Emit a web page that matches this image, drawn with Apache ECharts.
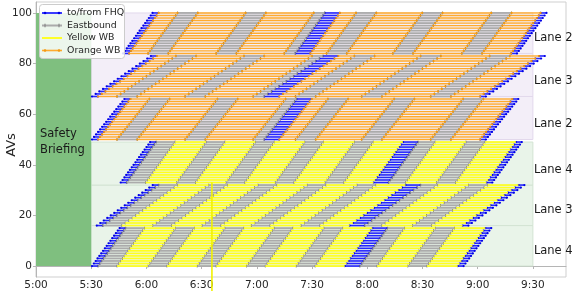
<!DOCTYPE html>
<html><head><meta charset="utf-8">
<script src="https://cdn.jsdelivr.net/npm/echarts@6/dist/echarts.min.js"></script>
<style>html,body{margin:0;padding:0;background:#fff}#c{width:574px;height:291px}</style>
</head><body><div id="c"></div>
<script>
// ---- data (minutes after 5:00) ----
const xTickLabels = ['5:00','5:30','6:00','6:30','7:00','7:30','8:00','8:30','9:00','9:30'];
const yTickValues = [0,20,40,60,80,100];
const legendNames = ['to/from FHQ','Eastbound','Yellow WB','Orange WB'];
const laneNames   = ['Lane 4','Lane 3','Lane 4','Lane 2','Lane 3','Lane 2'];
const laneBandLo  = [0,16,32,50,67,84];
const laneBandHi  = [16,32,49,67,84,100];
const groupFirstAV = [0,16,33,50,67,84];
const groupLastAV  = [15,32,49,66,83,100];
const groupRoute   = ['Y','Y','Y','O','O','O'];
const groupStagger = [1.0,1.9,1.0,1.1,2.0,1.0];   // minutes between consecutive AVs
const groupOffset  = [0,2.6,15.6,0,0,16.9];        // first AV shift vs route trip
// trip of the first AV of each route: [start, end, kind]
const yellowTrip = [
  [30.4,33.7,'B'],[33.7,44.0,'E'],[44.0,60.8,'Y'],[60.8,71.1,'E'],[71.1,87.6,'Y'],
  [87.6,97.9,'E'],[97.9,114.4,'Y'],[114.4,124.6,'E'],[124.6,141.4,'Y'],[141.4,151.7,'E'],
  [151.7,167.8,'Y'],[167.8,176.0,'B'],[176.0,185.3,'E'],[185.3,202.0,'Y'],[202.0,212.4,'E'],
  [212.4,229.2,'Y'],[229.2,232.4,'B']
];
const orangeTrip = [
  [30.4,33.7,'B'],[33.7,44.0,'O'],[44.0,55.0,'E'],[55.0,81.0,'O'],[81.0,92.0,'E'],
  [92.0,118.0,'O'],[118.0,124.0,'E'],[124.0,132.2,'B'],[132.2,141.0,'O'],[141.0,152.0,'E'],
  [152.0,177.0,'O'],[177.0,188.0,'E'],[188.0,214.5,'O'],[214.5,225.5,'E'],[225.5,241.3,'O'],
  [241.3,244.5,'B']
];
const safetyBriefing = [0,30,0,100];
const strayLine = [95.6,33,-10];

// ---- build ----
const segs = {B:[],E:[],Y:[],O:[]};
for (let g=0; g<groupFirstAV.length; g++){
  const trip = groupRoute[g]==='Y' ? yellowTrip : orangeTrip;
  for (let av=groupFirstAV[g]; av<=groupLastAV[g]; av++){
    const sh = groupOffset[g] + (av-groupFirstAV[g])*groupStagger[g];
    trip.forEach(s => segs[s[2]].push([s[0]+sh, s[1]+sh, av]));
  }
}
const bands = laneBandLo.map((lo,i)=>[30,270,lo,laneBandHi[i],i]);
const bandFill = ['#e9f4e9','#e9f4e9','#e9f4e9','#f3eef8','#f3eef8','#f3eef8'];
const bandEdge = ['#d3e4d3','#d3e4d3','#d3e4d3','#e2d8ec','#e2d8ec','#e2d8ec'];

const style = {
  B:{c:'#2626ff',w:1.6,m:'dot',mc:'#0000e6'},
  E:{c:'#ababab',w:1.8,m:'tick',mc:'#7c7c7c'},
  Y:{c:'#ffff1e',w:1.7,m:'none'},
  O:{c:'#ffab2e',w:1.4,m:'dot',mc:'#f39a10'}
};
function segSeries(k){
  const st = style[k];
  return {type:'custom', coordinateSystem:'cartesian2d', silent:true, animation:false, z:3,
    data: segs[k], encode:{x:[0,1], y:2},
    renderItem:(p, api)=>{
      const y = api.value(2);
      const a = api.coord([api.value(0), y]), b = api.coord([api.value(1), y]);
      const ch = [{type:'line', shape:{x1:a[0],y1:a[1],x2:b[0],y2:b[1]}, style:{stroke:st.c, lineWidth:st.w}}];
      if (st.m==='dot'){
        ch.push({type:'circle', shape:{cx:a[0],cy:a[1],r:1.1}, style:{fill:st.mc}});
        ch.push({type:'circle', shape:{cx:b[0],cy:b[1],r:1.1}, style:{fill:st.mc}});
      } else if (st.m==='tick'){
        ch.push({type:'line', shape:{x1:a[0],y1:a[1]-1.4,x2:a[0],y2:a[1]+1.4}, style:{stroke:st.mc, lineWidth:1}});
        ch.push({type:'line', shape:{x1:b[0],y1:b[1]-1.4,x2:b[0],y2:b[1]+1.4}, style:{stroke:st.mc, lineWidth:1}});
      }
      return {type:'group', children:ch};
    }};
}

const font = 'DejaVu Sans';
const chart = echarts.init(document.getElementById('c'), null, {renderer:'canvas'});
const legendY = [13,25.5,38,50.5];
const legendCol = [style.B, style.E, style.Y, style.O];
const graphics = [
  {type:'rect', left:39, top:4, shape:{width:85,height:54,r:3}, style:{fill:'rgba(255,255,255,0.85)', stroke:'#cccccc', lineWidth:1}, z:50}
];
legendNames.forEach((n,i)=>{
  const s = legendCol[i], y = legendY[i];
  graphics.push({type:'line', shape:{x1:42,y1:y,x2:62,y2:y}, style:{stroke:s.c, lineWidth:s.w+0.2}, z:51});
  if (s.m==='dot'){
    graphics.push({type:'circle', shape:{cx:45,cy:y,r:1.3}, style:{fill:s.mc}, z:52});
    graphics.push({type:'circle', shape:{cx:59,cy:y,r:1.3}, style:{fill:s.mc}, z:52});
  } else if (s.m==='tick'){
    graphics.push({type:'line', shape:{x1:45,y1:y-1.8,x2:45,y2:y+1.8}, style:{stroke:s.mc,lineWidth:1}, z:52});
    graphics.push({type:'line', shape:{x1:59,y1:y-1.8,x2:59,y2:y+1.8}, style:{stroke:s.mc,lineWidth:1}, z:52});
  }
  graphics.push({type:'text', x:67, y:y, style:{text:n, fill:'#262626', font:'9.4px "DejaVu Sans"', textVerticalAlign:'middle'}, z:52});
});
graphics.push({type:'text', x:12, y:145, rotation:Math.PI/2, style:{text:'AVs', fill:'#262626', font:'13px "DejaVu Sans"', textAlign:'center', textVerticalAlign:'middle'}, z:52});

chart.setOption({
  animation:false,
  grid:{left:36, right:8, top:2, bottom:13, show:true, borderColor:'#cfcfcf', borderWidth:1, backgroundColor:'#fff'},
  xAxis:{type:'value', min:0, max:288, interval:30,
    axisLine:{show:true, lineStyle:{color:'#b5b5b5'}},
    axisTick:{show:true, length:3, lineStyle:{color:'#b5b5b5'}},
    axisLabel:{margin:3, color:'#262626', fontFamily:font, fontSize:10.5, showMaxLabel:false,
      formatter:v => (v%30===0 && v/30 < xTickLabels.length) ? xTickLabels[v/30] : ''},
    splitLine:{show:false}},
  yAxis:{type:'value', min:-4.33, max:104.33, minInterval:20, maxInterval:20,
    axisLine:{show:true, lineStyle:{color:'#b5b5b5'}},
    axisTick:{show:true, length:3, lineStyle:{color:'#b5b5b5'}},
    axisLabel:{margin:4, color:'#262626', fontFamily:font, fontSize:10.5, showMinLabel:false, showMaxLabel:false,
      formatter:v => yTickValues.indexOf(v)>=0 ? String(v) : ''},
    splitLine:{show:false}},
  graphic: graphics,
  series:[
    {type:'custom', coordinateSystem:'cartesian2d', silent:true, z:1, data:bands, encode:{x:[0,1],y:[2,3]},
      renderItem:(p,api)=>{
        const a=api.coord([api.value(0),api.value(3)]), b=api.coord([api.value(1),api.value(2)]);
        const i=api.value(4);
        return {type:'rect', shape:{x:a[0],y:a[1],width:b[0]-a[0],height:b[1]-a[1]}, style:{fill:bandFill[i], stroke:bandEdge[i], lineWidth:1}};
      }},
    {type:'custom', coordinateSystem:'cartesian2d', silent:true, z:2, data:[safetyBriefing], encode:{x:[0,1],y:[2,3]},
      renderItem:(p,api)=>{
        const a=api.coord([api.value(0),api.value(3)]), b=api.coord([api.value(1),api.value(2)]);
        return {type:'group', children:[
          {type:'rect', shape:{x:a[0],y:a[1],width:b[0]-a[0],height:b[1]-a[1]}, style:{fill:'#7fbf7f'}},
          {type:'text', x:a[0]+4, y:a[1]+(b[1]-a[1])/2+3, style:{text:'Safety\nBriefing', fill:'#1a1a1a', font:'11.5px "DejaVu Sans"', lineHeight:16, textVerticalAlign:'middle'}}
        ]};
      }},
    {type:'custom', coordinateSystem:'cartesian2d', silent:true, z:2, data:laneNames.map((n,i)=>[270, laneBandLo[i]+6, i]), encode:{x:0,y:1},
      clip:false,
      renderItem:(p,api)=>{
        const a=api.coord([api.value(0),api.value(1)]);
        return {type:'text', x:a[0]+1, y:a[1], style:{text:laneNames[api.value(2)], fill:'#1a1a1a', font:'11.5px "DejaVu Sans"', textVerticalAlign:'middle'}};
      }},
    segSeries('B'), segSeries('E'), segSeries('Y'), segSeries('O'),
    {type:'custom', coordinateSystem:'cartesian2d', silent:true, z:4, clip:false, data:[strayLine], encode:{x:0,y:[1,2]},
      renderItem:(p,api)=>{
        const a=api.coord([api.value(0),api.value(1)]), b=api.coord([api.value(0),api.value(2)]);
        return {type:'line', shape:{x1:a[0],y1:a[1],x2:b[0],y2:b[1]}, style:{stroke:'#f2f200', lineWidth:1.6}};
      }}
  ]
});
</script></body></html>
